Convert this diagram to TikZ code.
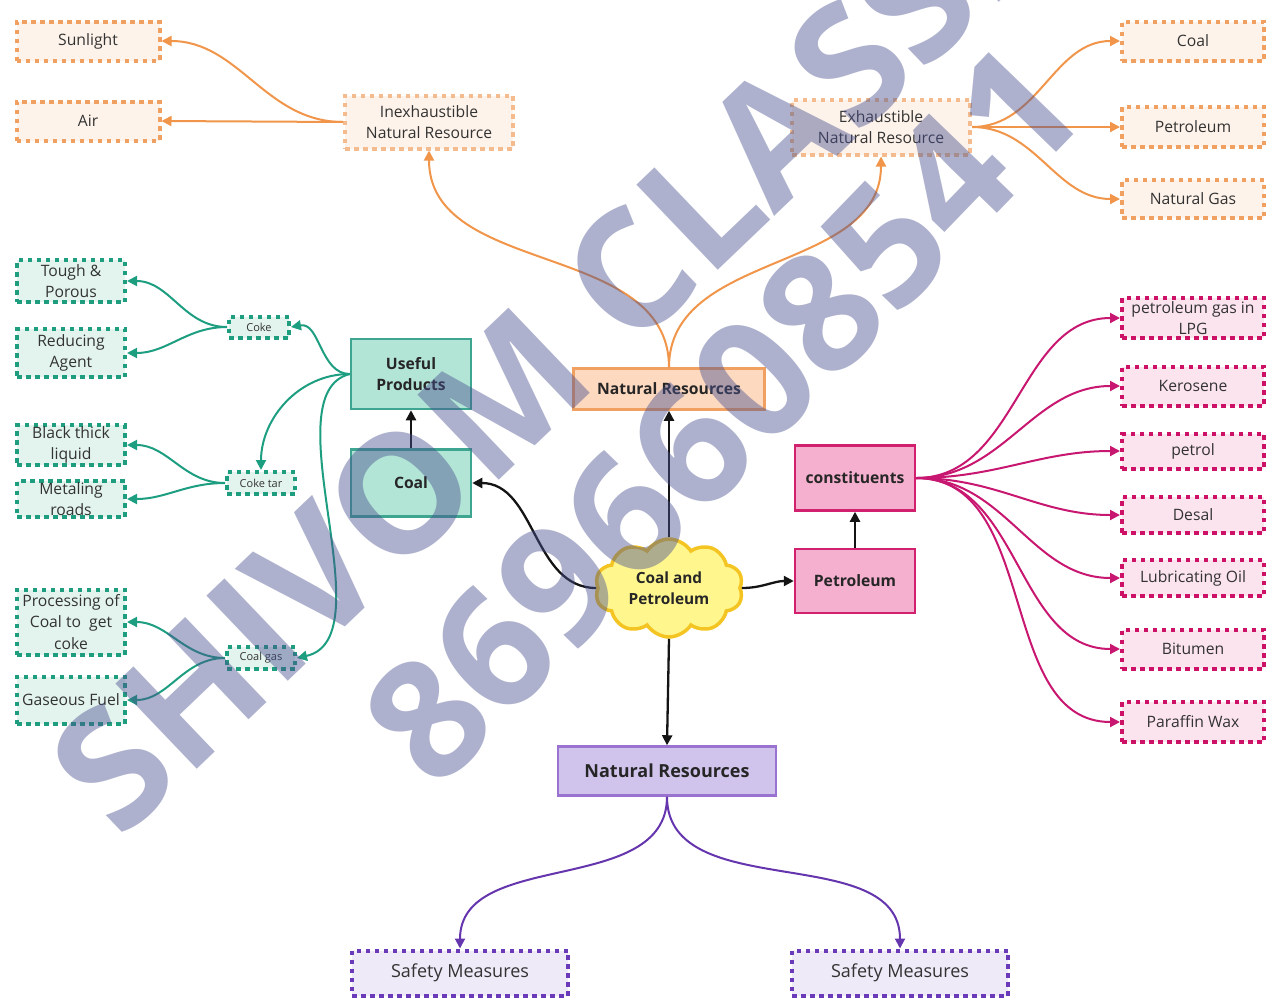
\documentclass[tikz,border=0pt]{standalone}
\usepackage{fontspec}
\setmainfont{Open Sans}
\usetikzlibrary{arrows.meta,shapes.symbols}
\definecolor{txt}{HTML}{333333}
\definecolor{orD}{HTML}{F0A060}
\definecolor{orDl}{HTML}{F4BC8E}
\definecolor{orL}{HTML}{FEF3EA}
\definecolor{orE}{HTML}{F0954A}
\definecolor{orF}{HTML}{FDD9BF}
\definecolor{grD}{HTML}{1E9E7E}
\definecolor{grL}{HTML}{E3F4EE}
\definecolor{grF}{HTML}{B3E5D7}
\definecolor{grB}{HTML}{3DA590}
\definecolor{grE}{HTML}{1E9E80}
\definecolor{pkD}{HTML}{CC1166}
\definecolor{pkL}{HTML}{FCE4EF}
\definecolor{pkF}{HTML}{F4B0CE}
\definecolor{pkB}{HTML}{D0206E}
\definecolor{pkE}{HTML}{C81770}
\definecolor{puD}{HTML}{6A3AB8}
\definecolor{puL}{HTML}{EFEAF8}
\definecolor{puF}{HTML}{D0C3EC}
\definecolor{puB}{HTML}{9A72D0}
\definecolor{puE}{HTML}{6535AE}
\definecolor{clF}{HTML}{FFF68E}
\definecolor{clD}{HTML}{F4C522}
\definecolor{wmC}{HTML}{4A5290}
\begin{document}
\begin{tikzpicture}[x=1pt,y=1pt,
  base/.style={align=center, inner sep=1pt, text=txt, font=\fontsize{15.7}{21.5}\selectfont},
  dotbox/.style={base, line width=4pt, dash pattern=on 4.5pt off 4.5pt},
  solbox/.style={base, line width=2.5pt, font=\fontsize{15.7}{21.5}\selectfont\bfseries, text=black!85},
  odot/.style={dotbox, draw=orD, fill=orL},
  odotl/.style={dotbox, draw=orDl, fill=orL},
  gdot/.style={dotbox, draw=grD, fill=grL},
  gsmall/.style={gdot, font=\fontsize{11}{13}\selectfont},
  pdot/.style={dotbox, draw=pkD, fill=pkL},
  udot/.style={dotbox, draw=puD, fill=puL, font=\fontsize{18}{22}\selectfont},
  sz/.style n args={2}{minimum width=#1, minimum height=#2},
  arr/.style={-{Triangle[length=10pt,width=10pt]}, line width=2pt},
  oarr/.style={arr, draw=orE},
  garr/.style={arr, draw=grE},
  parr/.style={arr, draw=pkE},
  uarr/.style={arr, draw=puE},
  karr/.style={arr, line width=2.3pt, draw=black!92},
  wm/.style={font=\fontsize{165}{165}\selectfont\bfseries, text=wmC, text opacity=0.45, inner sep=0pt}
]
\useasboundingbox (0,0) rectangle (1268,-999);
% orange
\node[odot, sz={143}{39}] (sun) at (88,-41) {Sunlight};
\node[odot, sz={143}{39}] (air) at (88,-121) {Air};
\node[odotl, sz={168}{53}] (inex) at (429,-122) {Inexhaustible\\Natural Resource};
\node[odotl, sz={178}{55}] (exh) at (881,-127) {Exhaustible\\Natural Resource};
\node[odot, sz={142}{39}] (coalR) at (1193,-41) {Coal};
\node[odot, sz={142}{40}] (petR) at (1193,-127) {Petroleum};
\node[odot, sz={142}{38}] (gasR) at (1193,-199) {Natural Gas};
\node[solbox, draw=orD, fill=orF, sz={191}{41}] (nrO) at (669,-389) {Natural Resources};
% green
\node[solbox, draw=grB, fill=grF, sz={120}{70}] (up) at (411,-374) {Useful\\Products};
\node[solbox, draw=grB, fill=grF, sz={120}{67}] (coalT) at (411,-483) {Coal};
\node[gsmall, sz={60}{21}] (coke) at (259,-327) {Coke};
\node[gsmall, sz={68}{22}] (coketar) at (261,-483) {Coke tar};
\node[gsmall, sz={68}{22}] (coalgas) at (261,-658) {Coal gas};
\node[gdot, sz={108}{42}] (tough) at (71,-281) {Tough \&\\Porous};
\node[gdot, sz={108}{48}] (reduc) at (71,-353) {Reducing\\Agent};
\node[gdot, sz={108}{38}] (black) at (71,-445) {Black thick\\liquid};
\node[gdot, sz={108}{35}] (metal) at (71,-499) {Metaling\\roads};
\node[gdot, sz={108}{65}] (proc) at (71,-622) {Processing of\\Coal to\ \ get\\coke};
\node[gdot, sz={108}{47}] (gasf) at (71,-700) {Gaseous Fuel};
% cloud
\node[cloud, cloud puffs=10, cloud puff arc=115, aspect=1.5, draw=clD, fill=clF, line width=3.5pt,
      inner sep=0pt, minimum width=148, minimum height=98, align=center,
      font=\fontsize{15.4}{21.5}\selectfont\bfseries, text=black!85] (cl) at (669,-588) {Coal and\\Petroleum};
% pink
\node[solbox, draw=pkB, fill=pkF, sz={120}{64}] (petP) at (855,-581) {Petroleum};
\node[solbox, draw=pkB, fill=pkF, sz={120}{65}] (const) at (855,-478) {constituents};
\node[pdot, sz={142}{40}] (lpg) at (1193,-318) {petroleum gas in\\LPG};
\node[pdot, sz={142}{39}] (kero) at (1193,-386) {Kerosene};
\node[pdot, sz={142}{35}] (petrol) at (1193,-451) {petrol};
\node[pdot, sz={142}{36}] (desal) at (1193,-515) {Desal};
\node[pdot, sz={142}{36}] (lub) at (1193,-578) {Lubricating Oil};
\node[pdot, sz={142}{39}] (bit) at (1193,-649) {Bitumen};
\node[pdot, sz={142}{40}] (para) at (1193,-722) {Paraffin Wax};
% purple
\node[solbox, draw=puB, fill=puF, sz={218}{49}, font=\fontsize{18}{22}\selectfont\bfseries] (nrP) at (667,-771) {Natural Resources};
\node[udot, sz={216}{45}] (saf1) at (460,-973) {Safety Measures};
\node[udot, sz={216}{45}] (saf2) at (900,-973) {Safety Measures};
% orange edges
\draw[oarr] (inex.west) to[out=180,in=0] (sun.east);
\draw[oarr] (inex.west) -- (air.east);
\draw[oarr] (nrO.north) to[out=90,in=-90] (inex.south);
\draw[oarr] (nrO.north) to[out=90,in=-90] (exh.south);
\draw[oarr] (exh.east) to[out=0,in=180] (coalR.west);
\draw[oarr] (exh.east) to[out=0,in=180] (petR.west);
\draw[oarr] (exh.east) to[out=0,in=180] (gasR.west);
% green edges
\draw[garr] (up.west) to[out=180,in=10] (coke.east);
\draw[garr] (up.west) to[out=180,in=90] (coketar.north);
\draw[garr] (up.west) .. controls +(-80,-20) and +(90,20) .. (coalgas.east);
\draw[garr] (coke.west) to[out=180,in=0] (tough.east);
\draw[garr] (coke.west) to[out=180,in=0] (reduc.east);
\draw[garr] (coketar.west) to[out=180,in=0] (black.east);
\draw[garr] (coketar.west) to[out=180,in=0] (metal.east);
\draw[garr] (coalgas.west) to[out=180,in=0] (proc.east);
\draw[garr] (coalgas.west) to[out=180,in=0] (gasf.east);
% black edges
\draw[karr] (cl.north) -- (nrO.south);
\draw[karr] (cl.west) to[out=180,in=0] (coalT.east);
\draw[karr] (cl.east) to[out=0,in=180] (petP.west);
\draw[karr] (cl.south) -- (nrP.north);
\draw[karr] (coalT.north) -- (up.south);
\draw[karr] (petP.north) -- (const.south);
% pink edges
\foreach \t in {lpg,kero,petrol,desal,lub,bit,para}
  \draw[parr] (const.east) to[out=0,in=180] (\t.west);
% purple edges
\draw[uarr] (nrP.south) to[out=-90,in=90] (saf1.north);
\draw[uarr] (nrP.south) to[out=-90,in=90] (saf2.north);
% watermark
\node[wm, rotate=43.7] (wm1) at (580,-321) {SHIVOM CLASSES};
\node[wm, rotate=46] (wm2) at (722,-414) {8696608541};
\end{tikzpicture}
\end{document}
